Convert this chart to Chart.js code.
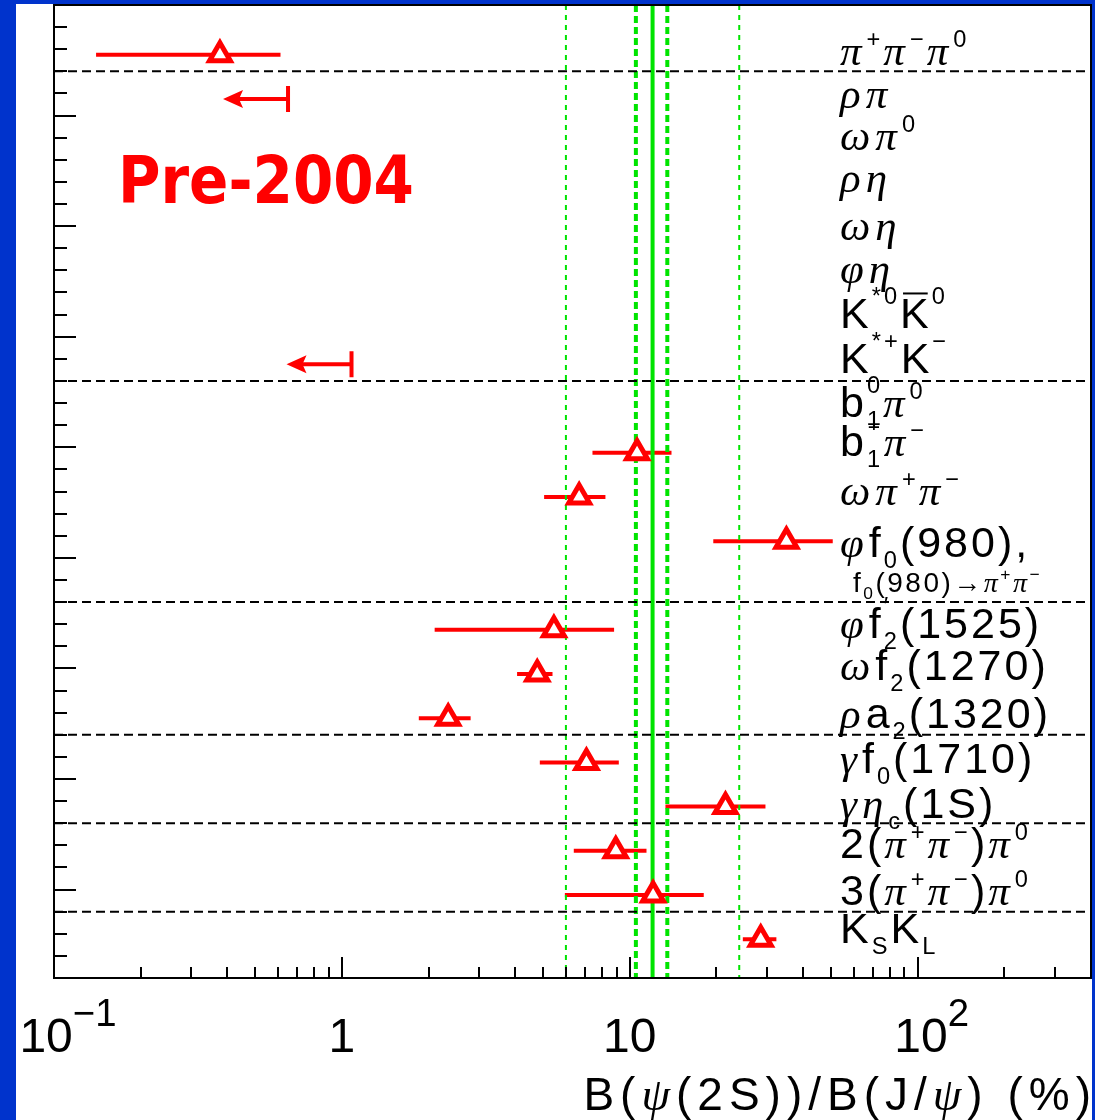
<!DOCTYPE html>
<html>
<head>
<meta charset="utf-8">
<script src="https://cdn.jsdelivr.net/npm/chart.js@4.4.1/dist/chart.umd.min.js"></script>
<style>
  html, body { margin: 0; padding: 0; background: #0033cc; }
  canvas { display: block; }
</style>
</head>
<body>
<canvas id="ratioChart" width="1095" height="1120"></canvas>
<script>
// psi(2S)/J-psi branching ratios per hadronic channel, log x axis, one row per channel.
// Rows count down from the top of the frame in units of the y axis (0..44).

// channel names in a small TLatex-like markup: ^{} superscript, _{} subscript, #bar{} overline
const channelLabels = [
  'π^{+}π^{−}π^{0}',
  'ρπ',
  'ωπ^{0}',
  'ρη',
  'ωη',
  'φη',
  'K^{*0}#bar{K}^{0}',
  'K^{*+}K^{−}',
  'b_{1}^{0}π^{0}',
  'b_{1}^{+}π^{−}',
  'ωπ^{+}π^{−}',
  'φf_{0}(980),',
  'f_{0}(980)→π^{+}π^{−}',
  'φf_{2}^{′}(1525)',
  'ωf_{2}(1270)',
  'ρa_{2}(1320)',
  'γf_{0}(1710)',
  'γη_{c}(1S)',
  '2(π^{+}π^{−})π^{0}',
  '3(π^{+}π^{−})π^{0}',
  'K_{S}K_{L}',
];
const labelBaselines = [2.71, 4.66, 6.56, 8.46, 10.63, 12.57, 14.6, 16.64, 18.63, 20.4,
                        22.61, 24.97, 26.55, 28.63, 30.53, 32.7, 34.74, 36.77, 38.58, 40.7, 42.42];
const footnoteLabel = 12;

// measured ratios (%) with their error ranges
const measuredRows   = [2.25, 20.25, 22.25, 24.25, 28.25, 30.25, 32.25, 34.25, 36.25, 38.25, 40.25, 42.25];
const measuredValues = [0.377, 10.6, 6.67, 35.0, 5.45, 4.77, 2.34, 7.07, 21.5, 8.94, 12.05, 28.5];
const errorLow       = [0.140, 7.42, 5.04, 19.5, 2.10, 4.06, 1.85, 4.87, 13.3, 6.39, 5.95, 24.7];
const errorHigh      = [0.612, 13.96, 8.23, 50.7, 8.82, 5.39, 2.80, 9.16, 29.6, 11.43, 18.07, 32.3];

// upper limits (%)
const limitRows   = [4.25, 16.25];
const limitValues = [0.65, 1.08];

// 12% rule, its band, and the factor-of-two lines
const ruleValue = 12;
const ruleBand = [10.5, 13.5];
const ruleFactorTwo = [6, 24];

// dashed separators between channel groups
const separatorRows = [3, 17, 27, 33, 37, 41];

const xTickValues = [0.1, 1, 10, 100];
const xTickLabels = ['10^{−1}', '1', '10', '10^{2}'];
const xTitle = 'B(ψ(2S))/B(J/ψ) (%)';
const stampText = 'Pre-2004';

const X_MIN = 0.1, X_MAX = 400, Y_MIN = 0, Y_MAX = 44;
const RED = '#ff0000', GREEN = '#00e400', BLUE = '#0033cc';
const SANS = '"Liberation Sans", "DejaVu Sans", Arial, sans-serif';
const GREEK = '"Liberation Serif", "DejaVu Serif", serif';
const GREEK_CHARS = 'πρωηφγψ';

function parseMarkup(src) {
  const out = [];
  let i = 0, buf = '';
  const flush = () => { if (buf) { out.push({ text: buf, mode: 'n' }); buf = ''; } };
  while (i < src.length) {
    let mode = null, skip = 0;
    if (src.startsWith('^{', i)) { mode = 'sup'; skip = 2; }
    else if (src.startsWith('_{', i)) { mode = 'sub'; skip = 2; }
    else if (src.startsWith('#bar{', i)) { mode = 'bar'; skip = 5; }
    if (mode) {
      flush();
      const end = src.indexOf('}', i + skip);
      out.push({ text: src.slice(i + skip, end), mode });
      i = end + 1;
    } else {
      buf += src[i];
      i++;
    }
  }
  flush();
  return out;
}

function setFont(ctx, ch, size) {
  ctx.font = GREEK_CHARS.includes(ch) ? `italic ${size}px ${GREEK}` : `${size}px ${SANS}`;
}

// draws (or just measures) a markup string with its baseline at y, returns the width
function drawRich(ctx, src, x, y, size, opt = {}) {
  const scale = opt.script || 0.55;
  const gap = opt.gap || 0;
  const greekGap = opt.greekGap || gap;
  let cx = x, prev = '', lastMode = 'n', scriptStart = x;
  for (const tok of parseMarkup(src)) {
    let sz = size, dy = 0, sx = cx;
    const isScript = tok.mode === 'sup' || tok.mode === 'sub';
    if (isScript) {
      sz = size * scale;
      if (lastMode === 'sup' || lastMode === 'sub') sx = scriptStart;
      else scriptStart = cx;
      // tall letters push the superscript higher
      if (tok.mode === 'sup') dy = /[A-Z0-9)*bdfhkl]/.test(prev) ? -0.55 * size : -0.42 * size;
      else dy = 0.25 * size;
    }
    let tx = sx;
    for (const ch of tok.text) {
      setFont(ctx, ch, sz);
      const w = ctx.measureText(ch).width;
      if (!opt.measure) ctx.fillText(ch, tx, y + dy);
      tx += w + (GREEK_CHARS.includes(ch) ? greekGap : gap);
    }
    if (tok.mode === 'bar' && !opt.measure) {
      ctx.save();
      ctx.lineWidth = 2;
      ctx.strokeStyle = ctx.fillStyle;
      ctx.beginPath();
      ctx.moveTo(sx + 3, y - 0.8 * size);
      ctx.lineTo(tx - 4, y - 0.8 * size);
      ctx.stroke();
      ctx.restore();
    }
    cx = isScript ? Math.max(cx, tx) : tx;
    if (!isScript) prev = tok.text.slice(-1);
    lastMode = tok.mode;
  }
  return cx - x - gap;
}

const background = {
  id: 'background',
  beforeDraw(chart) {
    const { ctx, width, height } = chart;
    ctx.save();
    ctx.fillStyle = BLUE;
    ctx.fillRect(0, 0, width, height);
    ctx.fillStyle = '#ffffff';
    ctx.fillRect(16, 4, 1076, height - 4);
    ctx.restore();
  }
};

const errorBarsAndLimits = {
  id: 'errorBarsAndLimits',
  beforeDatasetsDraw(chart) {
    const { ctx, scales: { x, y } } = chart;
    ctx.save();
    ctx.strokeStyle = RED;
    ctx.fillStyle = RED;
    ctx.lineWidth = 4;
    ctx.lineCap = 'butt';
    measuredRows.forEach((row, i) => {
      const py = y.getPixelForValue(row);
      ctx.beginPath();
      ctx.moveTo(x.getPixelForValue(errorLow[i]), py);
      ctx.lineTo(x.getPixelForValue(errorHigh[i]), py);
      ctx.stroke();
    });
    limitRows.forEach((row, i) => {
      const py = y.getPixelForValue(row);
      const px = x.getPixelForValue(limitValues[i]);
      const tip = px - 65;
      ctx.beginPath();
      ctx.moveTo(px, py - 13);
      ctx.lineTo(px, py + 13);
      ctx.moveTo(px, py);
      ctx.lineTo(tip + 12, py);
      ctx.stroke();
      ctx.beginPath();
      ctx.moveTo(tip, py);
      ctx.lineTo(tip + 20, py - 9);
      ctx.lineTo(tip + 16, py);
      ctx.lineTo(tip + 20, py + 9);
      ctx.closePath();
      ctx.fill();
    });
    ctx.restore();
  }
};

const frameAndText = {
  id: 'frameAndText',
  afterDraw(chart) {
    const { ctx, chartArea: a, scales: { x, y } } = chart;
    ctx.save();
    ctx.strokeStyle = '#000';
    ctx.lineWidth = 2;
    ctx.beginPath();
    for (let v = Y_MIN; v <= Y_MAX; v++) {
      const py = Math.round(y.getPixelForValue(v));
      ctx.moveTo(a.left, py);
      ctx.lineTo(a.left + (v % 5 === 0 ? 22 : 13), py);
    }
    for (let e = -1; e <= 2; e++) {
      for (let m = 1; m <= 9; m++) {
        const v = m * Math.pow(10, e);
        if (v > X_MAX * 1.0001) continue;
        const px = Math.round(x.getPixelForValue(v));
        ctx.moveTo(px, a.bottom);
        ctx.lineTo(px, a.bottom - (m === 1 ? 21 : 11));
      }
    }
    ctx.stroke();
    ctx.strokeRect(a.left, a.top, a.right - a.left, a.bottom - a.top);

    // channel names
    ctx.fillStyle = '#000';
    ctx.textBaseline = 'alphabetic';
    channelLabels.forEach((txt, i) => {
      const py = y.getPixelForValue(labelBaselines[i]);
      if (i === footnoteLabel) drawRich(ctx, txt, 853, py, 28, { script: 0.62, gap: 2.5 });
      else drawRich(ctx, txt, 840, py, 43, { gap: 3, greekGap: 5 });
    });

    // decade labels under the axis
    xTickValues.forEach((v, i) => {
      const px = x.getPixelForValue(v);
      const txt = xTickLabels[i];
      const w = drawRich(ctx, txt, 0, 0, 48, { script: 0.8, measure: true });
      const shift = txt.includes('^') ? 14 : 0;
      drawRich(ctx, txt, px - w / 2 + shift, 1052, 48, { script: 0.8 });
    });

    const tw = drawRich(ctx, xTitle, 0, 0, 46, { measure: true, gap: 6 });
    drawRich(ctx, xTitle, a.right - tw, 1110, 46, { gap: 6 });

    // period stamp
    ctx.fillStyle = RED;
    ctx.font = `bold 58px "DejaVu Sans", ${SANS}`;
    ctx.translate(118, 203);
    ctx.scale(1, 1.15);
    ctx.fillText(stampText, 0, 0);
    ctx.restore();
  }
};

const vline = (v, width, dash) => ({
  data: [{ x: v, y: Y_MIN }, { x: v, y: Y_MAX }],
  showLine: true, borderColor: GREEN, borderWidth: width, borderDash: dash,
  pointRadius: 0, order: 3
});
const hline = (row) => ({
  data: [{ x: X_MIN, y: row }, { x: X_MAX, y: row }],
  showLine: true, borderColor: '#000', borderWidth: 2, borderDash: [9, 5],
  pointRadius: 0, order: 2
});

new Chart(document.getElementById('ratioChart'), {
  type: 'scatter',
  data: {
    datasets: [
      {
        data: measuredValues.map((v, i) => ({ x: v, y: measuredRows[i] })),
        pointStyle: 'triangle',
        pointRadius: 12,
        pointBorderWidth: 5,
        pointBorderColor: RED,
        pointBackgroundColor: '#ffffff',
        order: 0
      },
      ...separatorRows.map(hline),
      vline(ruleValue, 4, []),
      ...ruleBand.map(v => vline(v, 4, [7, 4])),
      ...ruleFactorTwo.map(v => vline(v, 2, [5, 5]))
    ]
  },
  options: {
    responsive: false,
    animation: false,
    devicePixelRatio: 1,
    layout: { autoPadding: false, padding: { left: 54, right: 4, top: 5, bottom: 142 } },
    scales: {
      x: { type: 'logarithmic', min: X_MIN, max: X_MAX, display: false },
      y: { type: 'linear', min: Y_MIN, max: Y_MAX, reverse: true, display: false }
    },
    plugins: { legend: { display: false }, tooltip: { enabled: false } }
  },
  plugins: [background, errorBarsAndLimits, frameAndText]
});
</script>
</body>
</html>
